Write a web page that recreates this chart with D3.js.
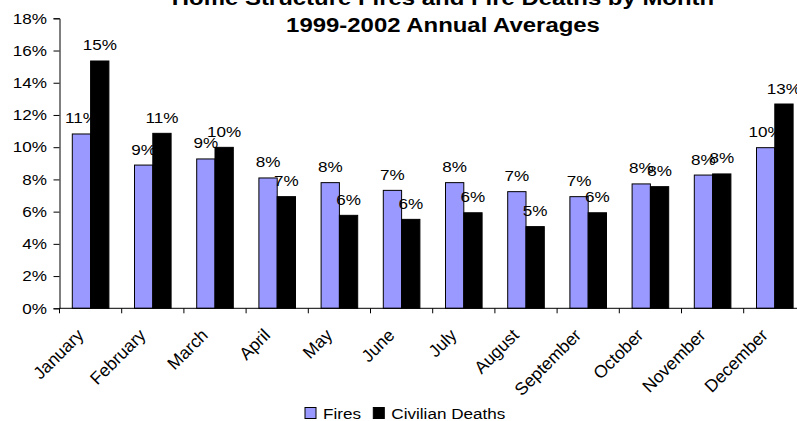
<!DOCTYPE html>
<html>
<head>
<meta charset="utf-8">
<script src="https://cdn.jsdelivr.net/npm/d3@7"></script>
<style>
  html, body { margin: 0; padding: 0; background: #fff; }
  svg { display: block; }
  text { font-family: "Liberation Sans", Arial, sans-serif; fill: #000; }
</style>
</head>
<body>
<svg id="chart" width="797" height="421"></svg>
<script>
const months = ["January","February","March","April","May","June","July","August","September","October","November","December"];
const fires  = [10.82, 8.89, 9.27, 8.09, 7.80, 7.32, 7.80, 7.24, 6.93, 7.72, 8.27, 9.97];
const deaths = [15.35, 10.86, 9.99, 6.93, 5.77, 5.52, 5.93, 5.07, 5.93, 7.55, 8.34, 12.68];
const seriesNames = ["Fires", "Civilian Deaths"];
const seriesColors = ["#9999FF", "#000000"];
const yTicks = [0, 2, 4, 6, 8, 10, 12, 14, 16, 18];
const titleLines = ["Home Structure Fires and Fire Deaths by Month", "1999-2002 Annual Averages"];

const svg = d3.select("#chart");
const SX = 1.14; // horizontal stretch of horizontal text

const x = d3.scaleBand().domain(months).range([59.5, 805.9]).paddingInner(0.4116).paddingOuter(0.2058);
const x1 = d3.scaleBand().domain(seriesNames).range([0, x.bandwidth()]);
const y = d3.scaleLinear().domain([0, 18]).range([308.3, 18.3]);

const rows = months.map((m, i) => ({ month: m, vals: [fires[i], deaths[i]] }));

// Bars
const g = svg.append("g");
rows.forEach(r => {
  r.vals.forEach((v, j) => {
    g.append("rect")
      .attr("x", x(r.month) + x1(seriesNames[j]))
      .attr("y", y(v))
      .attr("width", x1.bandwidth())
      .attr("height", y(0) - y(v))
      .attr("fill", seriesColors[j])
      .attr("stroke", "#000")
      .attr("stroke-width", 1);
  });
});

function stretchedText(parent, tx, ty, str, anchor, size, weight) {
  return parent.append("text")
    .attr("transform", `translate(${tx},${ty}) scale(${SX},1)`)
    .attr("text-anchor", anchor || "start")
    .style("font-size", (size || 15) + "px")
    .style("font-weight", weight || "normal")
    .text(str);
}

// Data labels
rows.forEach(r => {
  r.vals.forEach((v, j) => {
    const cx = x(r.month) + x1(seriesNames[j]) + x1.bandwidth() / 2;
    stretchedText(svg, cx, y(v) - 10.5, Math.round(v) + "%", "middle", 15);
  });
});

// Y axis
const yAxis = d3.axisLeft(y).tickValues(yTicks).tickSize(6).tickFormat(d => d + "%");
const ya = svg.append("g").attr("transform", "translate(59.5,0)").call(yAxis);
ya.select(".domain").attr("stroke", "#000");
ya.selectAll(".tick line").attr("stroke", "#000");
ya.selectAll(".tick text").remove();
yTicks.forEach(t => {
  stretchedText(svg, 47, y(t) + 5.3, t + "%", "end", 15);
});

// X axis
const xAxisLine = svg.append("g");
xAxisLine.append("line").attr("x1", 59.5).attr("x2", 806).attr("y1", y(0)).attr("y2", y(0)).attr("stroke", "#000");
months.forEach(m => {
  xAxisLine.append("line")
    .attr("x1", x(m) - x.step() * x.paddingOuter()).attr("x2", x(m) - x.step() * x.paddingOuter())
    .attr("y1", y(0)).attr("y2", y(0) + 5).attr("stroke", "#000");
});
months.forEach(m => {
  const cx = x(m) + x.bandwidth() / 2;
  svg.append("text")
    .attr("transform", `translate(${cx - 6},${y(0) + 28}) rotate(-45)`)
    .attr("text-anchor", "end")
    .style("font-size", "17.5px")
    .text(m);
});

// Title
const titleCx = 443;
stretchedText(svg, titleCx, 5, titleLines[0], "middle", 21, "bold");
stretchedText(svg, titleCx, 32, titleLines[1], "middle", 21, "bold");

// Legend
const legend = svg.append("g");
const legendX = [305, 373.3];
seriesNames.forEach((s, j) => {
  legend.append("rect")
    .attr("x", legendX[j]).attr("y", 407.5)
    .attr("width", 11).attr("height", 11)
    .attr("fill", seriesColors[j]).attr("stroke", "#000").attr("stroke-width", 1);
  stretchedText(legend, legendX[j] + 18, 418.5, s, "start", 15);
});
</script>
</body>
</html>
